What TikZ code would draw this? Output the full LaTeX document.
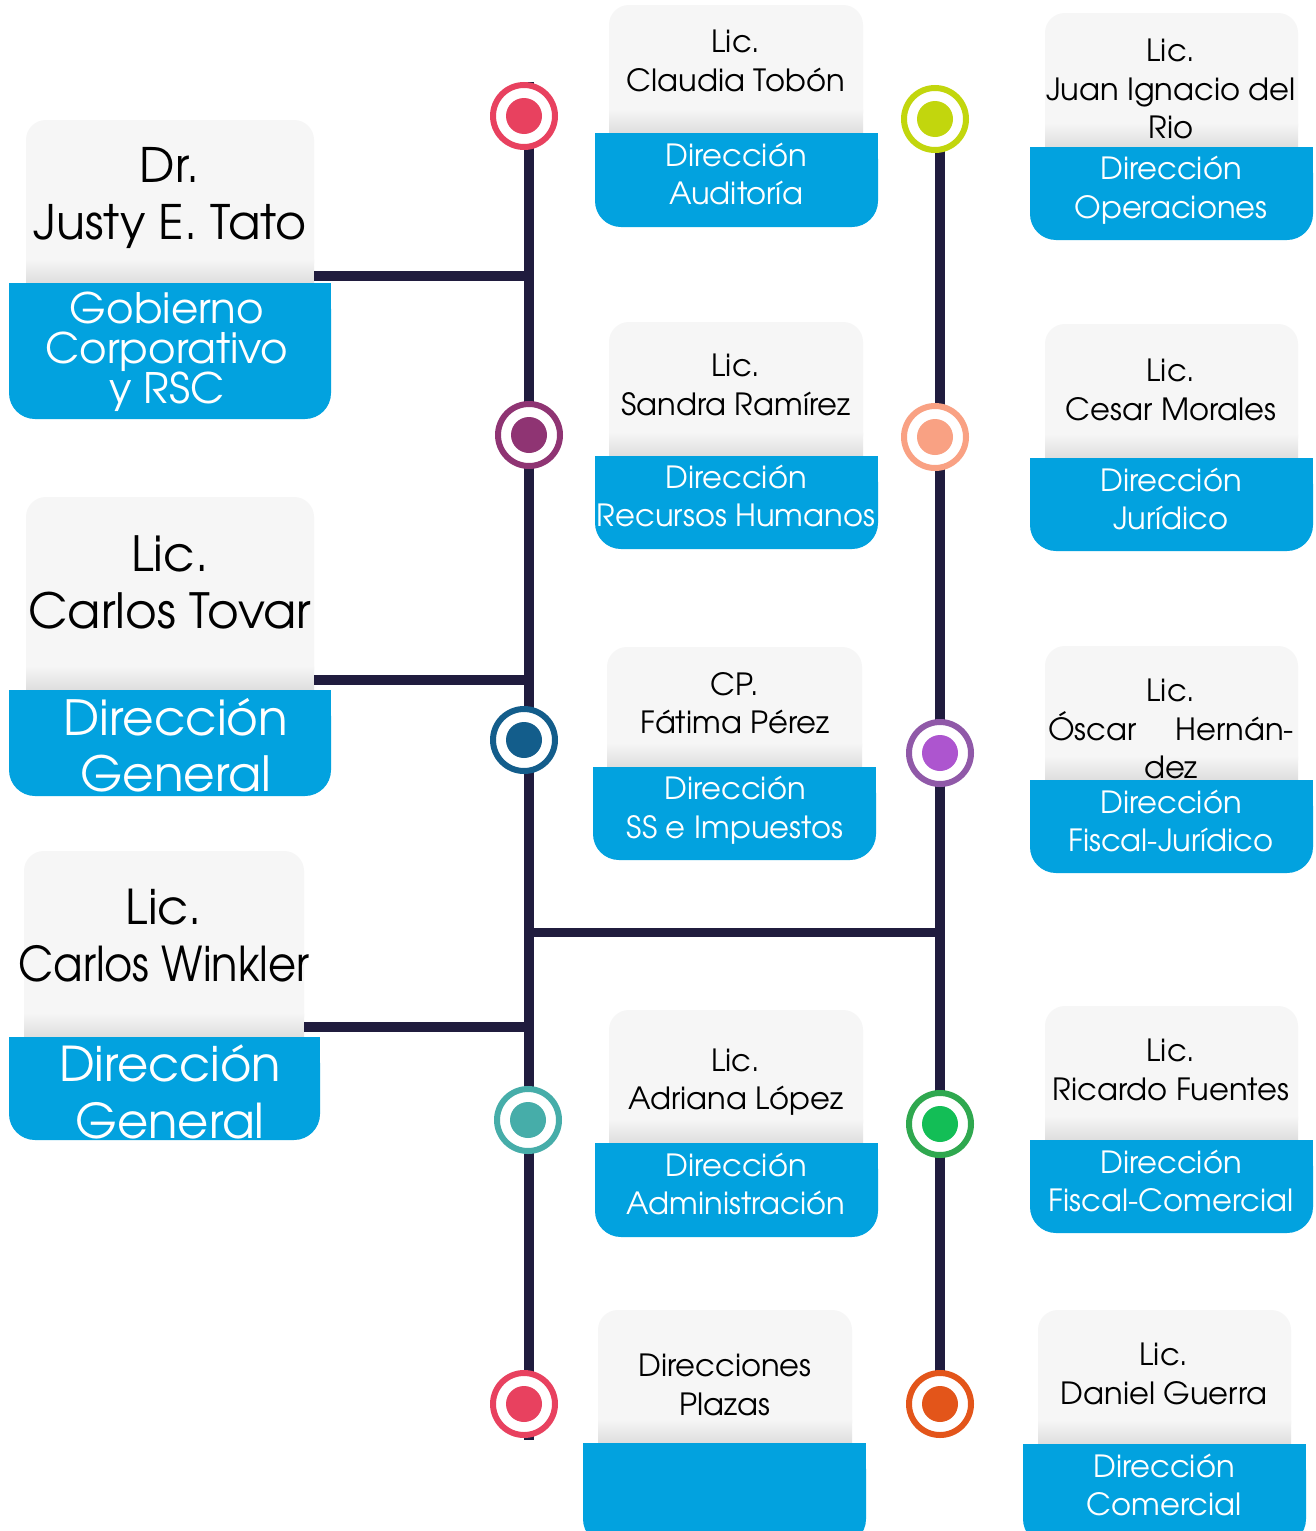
\documentclass[tikz,border=0pt]{standalone}
\usepackage{fontspec}
\usepackage{graphicx}
\setmainfont{texgyreadventor-regular.otf}
\definecolor{linec}{HTML}{201C3E}
\definecolor{cardgray}{HTML}{F6F6F6}
\definecolor{cardshade}{HTML}{DEDEDE}
\definecolor{cardblue}{HTML}{02A2DF}
\definecolor{cred}{HTML}{E8415F}
\definecolor{cpurple}{HTML}{8F3473}
\definecolor{cdblue}{HTML}{135D8B}
\definecolor{cteal}{HTML}{46ADA9}
\definecolor{clime}{HTML}{C2D60D}
\definecolor{csalmon}{HTML}{F9A183}
\definecolor{cviolring}{HTML}{9059A8}
\definecolor{cviol}{HTML}{AD55CF}
\definecolor{cgreenring}{HTML}{2FA84F}
\definecolor{cgreen}{HTML}{13BE56}
\definecolor{corange}{HTML}{E3551A}
\tikzset{
  conn/.style={draw=linec, line width=10pt},
  ring/.style 2 args={circle, draw=#1, line width=6pt, fill=white, minimum size=62pt, inner sep=0pt,
    path picture={\fill[#2] (path picture bounding box.center) circle (18pt);}},
  toptext/.style={align=center, text=black, inner sep=0pt},
  bottext/.style={align=center, text=white, inner sep=0pt},
  midfont/.style={font=\fontsize{30.6}{38.5}\selectfont},
}
% gray part: x1,y1,x2,split ; blue part: bx1,bx2,by2
\newcommand{\cardshape}[7]{%
  \fill[cardgray, rounded corners=20pt] (#1,#2) rectangle (#3,#4);
  \shade[top color=cardgray, bottom color=cardshade] (#1,#4-24) rectangle (#3,#4);
  \fill[cardblue, rounded corners=26pt] (#5,#4) rectangle (#6,#7);
  \fill[cardblue] (#5,#4) rectangle (#6,#4+30);
}
\begin{document}
\begin{tikzpicture}[x=1pt,y=-1pt]
\useasboundingbox (0,0) rectangle (1315,1531);
\fill[white] (0,0) rectangle (1315,1531);

% ---- spine lines
\coordinate (lt) at (529,82);
\coordinate (lb) at (529,1440);
\coordinate (rt) at (940,140);
\coordinate (rb) at (940,1390);
\coordinate (hl) at (529,932);
\coordinate (hr) at (940,932);
\draw[conn] (lt) -- (lb);
\draw[conn] (rt) -- (rb);
\draw[conn, line width=9pt] (hl) -- (hr);

% ---- left cards
\cardshape{26}{120}{314}{283}{9}{331}{419}
\node[toptext, font=\fontsize{47.5}{57}\selectfont] (aT) at (170,198) {Dr.\\Justy E. Tato};
\node[bottext, font=\fontsize{42}{40}\selectfont] (aB) at (167,352) {Gobierno\\Corporativo\\y RSC};
\coordinate (aR) at (314,276);
\coordinate (aJ) at (529,276);
\draw[conn] (aR) -- (aJ);

\cardshape{26}{497}{314}{690}{9}{331}{796}
\node[toptext, font=\fontsize{48.5}{57}\selectfont] (bT) at (170,582) {Lic.\\Carlos Tovar};
\node[bottext, font=\fontsize{48.5}{56}\selectfont] (bB) at (176,745) {Dirección\\General};
\coordinate (bR) at (314,680);
\coordinate (bJ) at (529,680);
\draw[conn] (bR) -- (bJ);

\cardshape{24}{851}{304}{1037}{9}{320}{1140}
\node[toptext, font=\fontsize{48}{57}\selectfont] (cT) at (164,936) {Lic.\\\scalebox{0.9}[1]{Carlos Winkler}};
\node[bottext, font=\fontsize{48}{57}\selectfont] (cB) at (170,1092) {Dirección\\General};
\coordinate (cR) at (304,1027);
\coordinate (cJ) at (529,1027);
\draw[conn] (cR) -- (cJ);

% ---- middle cards
\cardshape{609}{5}{863}{133}{595}{878}{227}
\node[toptext, midfont] (dT) at (736,61) {Lic.\\Claudia Tobón};
\node[bottext, midfont] (dB) at (736,174) {Dirección\\Auditoría};

\cardshape{609}{322}{863}{456}{595}{878}{549}
\node[toptext, midfont] (eT) at (736,385) {Lic.\\Sandra Ramírez};
\node[bottext, midfont] (eB) at (736,496) {Dirección\\Recursos Humanos};

\cardshape{607}{647}{862}{767}{593}{876}{860}
\node[toptext, midfont] (fT) at (735,703) {CP.\\Fátima Pérez};
\node[bottext, midfont] (fB) at (735,810) {Dirección\\SS e Impuestos};

\cardshape{609}{1010}{863}{1143}{595}{878}{1237}
\node[toptext, midfont] (gT) at (736,1082) {Lic.\\Adriana López};
\node[bottext, midfont] (gB) at (736,1184) {Dirección\\Administración};

\cardshape{598}{1310}{852}{1443}{583}{866}{1545}
\node[toptext, midfont] (hT) at (725,1385) {Direcciones\\Plazas};

% ---- right cards
\cardshape{1045}{13}{1298}{147}{1030}{1313}{240}
\node[toptext, midfont] (iT) at (1171,89) {Lic.\\Juan Ignacio del\\Rio};
\node[bottext, midfont] (iB) at (1171,190) {Dirección\\Operaciones};

\cardshape{1045}{324}{1298}{458}{1030}{1313}{551}
\node[toptext, midfont] (jT) at (1171,390) {Lic.\\Cesar Morales};
\node[bottext, midfont] (jB) at (1171,499) {Dirección\\Jurídico};

\cardshape{1045}{646}{1298}{780}{1030}{1313}{873}
\node[toptext, midfont] (kT) at (1171,729) {Lic.\\\hbox to 246pt{Óscar\hfill Hernán-}\\dez};
\node[bottext, midfont] (kB) at (1171,821) {Dirección\\Fiscal-Jurídico};

\cardshape{1045}{1006}{1298}{1140}{1030}{1313}{1233}
\node[toptext, midfont] (lT) at (1171,1070) {Lic.\\Ricardo Fuentes};
\node[bottext, midfont] (lB) at (1171,1181) {Dirección\\Fiscal-Comercial};

\cardshape{1038}{1310}{1291}{1444}{1023}{1306}{1545}
\node[toptext, midfont] (mT) at (1164,1374) {Lic.\\Daniel Guerra};
\node[bottext, midfont] (mB) at (1164,1485) {Dirección\\Comercial};

% ---- circles
\node[ring={cred}{cred}] (c1) at (524,116) {};
\node[ring={cpurple}{cpurple}] (c2) at (529,435) {};
\node[ring={cdblue}{cdblue}] (c3) at (524,740) {};
\node[ring={cteal}{cteal}] (c4) at (528,1120) {};
\node[ring={cred}{cred}] (c5) at (524,1404) {};
\node[ring={clime}{clime}] (r1) at (935,119) {};
\node[ring={csalmon}{csalmon}] (r2) at (935,437) {};
\node[ring={cviolring}{cviol}] (r3) at (940,753) {};
\node[ring={cgreenring}{cgreen}] (r4) at (940,1124) {};
\node[ring={corange}{corange}] (r5) at (940,1404) {};
\end{tikzpicture}
\end{document}
